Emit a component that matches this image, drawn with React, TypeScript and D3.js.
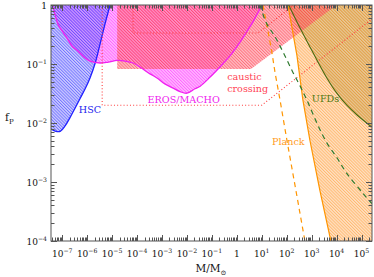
import React, { useEffect, useRef } from 'react';
import * as d3 from 'd3';

// limits, as [M / Msun, f_P]
const hscLimit: [number, number][] = [
  [3.6e-8, 7.9e-3], [5.2e-8, 7.3e-3], [8.3e-8, 7.2e-3], [1.3e-7, 8.9e-3],
  [2.1e-7, 1.26e-2], [3.3e-7, 1.8e-2], [5.2e-7, 2.6e-2], [8.3e-7, 3.8e-2],
  [1.3e-6, 5.8e-2], [2.1e-6, 0.104], [3.3e-6, 0.22], [5.2e-6, 0.48], [8.3e-6, 1],
];

const erosLimit: [number, number][] = [
  [4.0e-8, 1], [5.2e-8, 0.68], [6.9e-8, 0.46], [1.1e-7, 0.34], [1.6e-7, 0.27],
  [2.5e-7, 0.2], [4.0e-7, 0.17], [8.3e-7, 0.126], [1.3e-6, 0.112], [3.3e-6, 0.104],
  [7.1e-6, 0.108], [1.6e-5, 0.115], [3.3e-5, 0.112], [6.9e-5, 0.104], [1.3e-4, 0.089],
  [3.3e-4, 0.068], [6.3e-4, 0.058], [1.3e-3, 0.046], [2.8e-3, 0.039], [5.3e-3, 0.034],
  [1.0e-2, 0.032], [2.1e-2, 0.038], [3.4e-2, 0.042], [8.5e-2, 0.06], [0.21, 0.089],
  [0.53, 0.137], [1.35, 0.235], [2.6, 0.36], [5.4, 0.6], [10.2, 1],
];

const causticLimit: [number, number][] = [
  [1.6e-5, 1], [1.6e-5, 0.082], [3.7, 0.082], [1.0e4, 1],
];

// dotted projections
const causticFuture1: [number, number][] = [[4.0e-6, 1], [4.0e-6, 0.02], [10, 0.02], [2.6e5, 0.58]];
const causticFuture2: [number, number][] = [[6.9e-5, 1], [6.9e-5, 0.335], [7.0, 0.335], [195, 1]];

const planckLimit: [number, number][] = [
  [112, 1], [257, 0.14], [447, 0.0245], [851, 0.0051], [2140, 7.2e-4], [5890, 1e-4],
];
const planckDashed: [number, number][] = [
  [11.2, 1], [17.8, 0.36], [25.7, 0.155], [34, 0.072], [54, 0.0245],
  [102, 0.0051], [234, 7.2e-4], [537, 1e-4],
];

const ufdLimit: [number, number][] = [
  [120, 1], [339, 0.41], [851, 0.195], [1620, 0.117], [4070, 0.058],
  [1.02e4, 0.032], [2.57e4, 0.02], [6.46e4, 0.0138], [2.6e5, 0.0085],
];
const ufdDashed: [number, number][] = [
  [8.5, 1], [14.8, 0.51], [34, 0.29], [78, 0.148], [178, 0.072], [339, 0.043],
  [646, 0.0245], [1620, 0.01], [4070, 0.0046], [1.02e4, 0.0026], [2.57e4, 0.0014],
  [1.12e5, 6.5e-4], [2.6e5, 4.3e-4],
];

const xDecades = [-7, -6, -5, -4, -3, -2, -1, 0, 1, 2, 3, 4, 5];
const yDecades = [-4, -3, -2, -1, 0];

const labels = [
  { text: 'HSC', m: 1.3e-6, f: 0.0148, color: '#2323ee', anchor: 'middle' },
  { text: 'EROS/MACHO', m: 7.4e-3, f: 0.0218, color: '#ee22ee', anchor: 'middle' },
  { text: 'caustic', m: 0.41, f: 0.053, color: '#ff4455', anchor: 'start' },
  { text: 'crossing', m: 0.41, f: 0.034, color: '#ff4455', anchor: 'start' },
  { text: 'UFDs', m: 1020, f: 0.023, color: '#4f7a14', anchor: 'start' },
  { text: 'Planck', m: 25.7, f: 0.0042, color: '#ff9a22', anchor: 'start' },
];

const font = 'DejaVu Serif';

function App() {
  const ref = useRef<SVGSVGElement>(null);

  useEffect(() => {
    const svg = d3.select(ref.current);
    svg.selectAll('*').remove();

    const x = d3.scaleLog().domain([10 ** -7.45, 10 ** 5.42]).range([51, 372]);
    const y = d3.scaleLog().domain([1e-4, 1]).range([241, 5]);
    const [x0, x1] = x.range();
    const [y0, y1] = y.range();

    const defs = svg.append('defs');
    defs.append('clipPath').attr('id', 'plot')
      .append('rect').attr('x', x0).attr('y', y1).attr('width', x1 - x0).attr('height', y0 - y1);

    const hatch = (id: string, color: string) => {
      const p = defs.append('pattern').attr('id', id)
        .attr('patternUnits', 'userSpaceOnUse')
        .attr('width', 2.2).attr('height', 2.2)
        .attr('patternTransform', 'rotate(-45)');
      p.append('line').attr('x1', 0.5).attr('y1', 0).attr('x2', 0.5).attr('y2', 2.2)
        .attr('stroke', color).attr('stroke-width', 0.8);
    };
    hatch('h-hsc', '#3a3aff');
    hatch('h-eros', '#ff30ff');
    hatch('h-caustic', '#ff3a4a');
    hatch('h-planck', '#ff9a30');
    hatch('h-ufd', '#7f7a20');

    const smooth = d3.line<[number, number]>().x(d => x(d[0])).y(d => y(d[1])).curve(d3.curveCatmullRom.alpha(0.5));
    const straight = d3.line<[number, number]>().x(d => x(d[0])).y(d => y(d[1]));

    const g = svg.append('g').attr('clip-path', 'url(#plot)');

    const region = (d: string, color: string, op: number, pat: string, hop: number) => {
      g.append('path').attr('d', d).attr('fill', color).attr('fill-opacity', op);
      g.append('path').attr('d', d).attr('fill', `url(#${pat})`).attr('opacity', hop);
    };

    // UFDs: everything above the line
    region(smooth(ufdLimit) + `L${x1 + 5},${y1 - 5}Z`, '#9a9440', 0.35, 'h-ufd', 0.65);
    // Planck: everything right of the line
    region(straight(planckLimit) + `L${x1 + 5},${y0 + 5}L${x1 + 5},${y1 - 5}Z`, '#ffb060', 0.38, 'h-planck', 0.65);
    // EROS/MACHO
    region(smooth(erosLimit) + 'Z', '#ff50ff', 0.4, 'h-eros', 0.7);
    // caustic crossing
    region(straight(causticLimit) + 'Z', '#ff6070', 0.4, 'h-caustic', 0.7);
    // HSC
    const hscStart = hscLimit[0];
    region(smooth(hscLimit) + `L${x0 - 5},${y1 - 5}L${x0 - 5},${y(hscStart[1])}Z`, '#6a6aff', 0.34, 'h-hsc', 0.7);

    const stroke = (d: string | null, color: string, w: number, dash?: string) => {
      const p = g.append('path').attr('d', d).attr('fill', 'none')
        .attr('stroke', color).attr('stroke-width', w);
      if (dash) p.attr('stroke-dasharray', dash);
    };
    stroke(smooth(hscLimit), '#2020ff', 1.3);
    stroke(smooth(erosLimit), '#f020f0', 1.3);
    stroke(straight(causticFuture1), '#ff3b3b', 1.1, '1,2.2');
    stroke(straight(causticFuture2), '#ff3b3b', 1.1, '1,2.2');
    stroke(straight(planckLimit), '#ff9500', 1.2);
    stroke(straight(planckDashed), '#ff9500', 1.2, '5,4');
    stroke(smooth(ufdLimit), '#4a6a10', 1.1);
    stroke(smooth(ufdDashed), '#2f7a2f', 1.2, '5,4');

    // labels
    labels.forEach(l => {
      svg.append('text').attr('x', x(l.m)).attr('y', y(l.f))
        .attr('text-anchor', l.anchor).attr('fill', l.color)
        .attr('font-family', font).attr('font-size', 9.6).text(l.text);
    });

    // frame and ticks (inward, all four sides)
    const axisColor = '#555';
    svg.append('rect').attr('x', x0).attr('y', y1).attr('width', x1 - x0).attr('height', y0 - y1)
      .attr('fill', 'none').attr('stroke', axisColor).attr('stroke-width', 1);

    const xTicks: { v: number; major: boolean }[] = [];
    for (let k = -8; k <= 5; k++) {
      for (let m = 1; m <= 9; m++) {
        const v = m * 10 ** k;
        if (v >= x.domain()[0] && v <= x.domain()[1]) xTicks.push({ v, major: m === 1 });
      }
    }
    const yTicks: { v: number; major: boolean }[] = [];
    for (let k = -4; k <= 0; k++) {
      for (let m = 1; m <= 9; m++) {
        const v = m * 10 ** k;
        if (v >= 1e-4 && v <= 1.0001) yTicks.push({ v, major: m === 1 });
      }
    }
    const ticks = svg.append('g').attr('stroke', axisColor).attr('stroke-width', 1);
    xTicks.forEach(t => {
      const px = Math.round(x(t.v)) + 0.5;
      const len = t.major ? 6 : 3.5;
      ticks.append('line').attr('x1', px).attr('x2', px).attr('y1', y0).attr('y2', y0 - len);
      ticks.append('line').attr('x1', px).attr('x2', px).attr('y1', y1).attr('y2', y1 + len);
    });
    yTicks.forEach(t => {
      const py = Math.round(y(t.v)) + 0.5;
      const len = t.major ? 6 : 3.5;
      ticks.append('line').attr('y1', py).attr('y2', py).attr('x1', x0).attr('x2', x0 + len);
      ticks.append('line').attr('y1', py).attr('y2', py).attr('x1', x1).attr('x2', x1 - len);
    });

    // tick labels
    xDecades.forEach(k => {
      const t = svg.append('text').attr('x', x(10 ** k)).attr('y', 256.5)
        .attr('text-anchor', 'middle').attr('font-family', font).attr('font-size', 9).attr('fill', '#111');
      if (k === 0) t.text('1');
      else {
        t.append('tspan').text('10');
        t.append('tspan').attr('dy', -4).attr('font-size', 6.2).text(k < 0 ? `\u2212${-k}` : `${k}`);
      }
    });
    yDecades.forEach(k => {
      const t = svg.append('text').attr('x', 47).attr('y', y(10 ** k) + 3.5)
        .attr('text-anchor', 'end').attr('font-family', font).attr('font-size', 9).attr('fill', '#111');
      if (k === 0) t.text('1');
      else {
        t.append('tspan').text('10');
        t.append('tspan').attr('dy', -4).attr('font-size', 6.2).text(`\u2212${-k}`);
      }
    });

    // axis titles
    const xt = svg.append('text').attr('x', 211).attr('y', 272).attr('text-anchor', 'middle')
      .attr('font-family', font).attr('font-size', 10.5).attr('fill', '#111');
    xt.append('tspan').text('M/M');
    xt.append('tspan').attr('dy', 2.5).attr('font-size', 7).text('\u2299');

    const yt = svg.append('text').attr('x', 5).attr('y', 121)
      .attr('font-family', font).attr('font-size', 10.5).attr('fill', '#111');
    yt.append('tspan').text('f');
    yt.append('tspan').attr('dy', 3).attr('font-size', 7).text('P');
  }, []);

  return (
    <svg ref={ref} width={374} height={277}
      style={{ position: 'absolute', left: 0, top: 0, background: '#fff' }} />
  );
}

export default App;
